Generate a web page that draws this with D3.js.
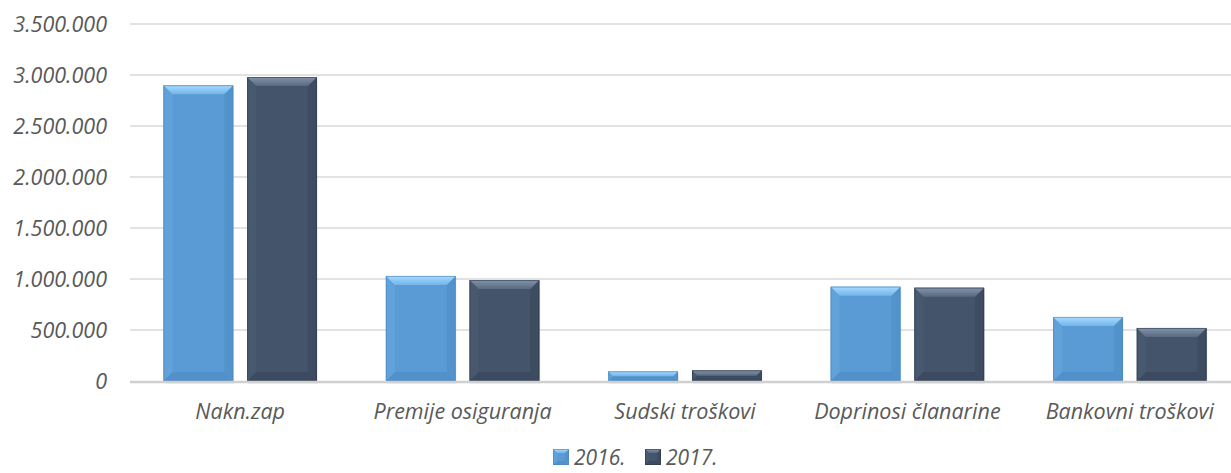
<!DOCTYPE html>
<html>
<head>
<meta charset="utf-8">
<script src="https://cdn.jsdelivr.net/npm/d3@7"></script>
<style>
  body { margin: 0; background: #fff; }
  text { font-family: "Open Sans", sans-serif; font-style: italic; fill: #595959; }
</style>
</head>
<body>
<div id="chart"></div>
<script>
const categories = ["Nakn.zap", "Premije osiguranja", "Sudski troškovi", "Doprinosi članarine", "Bankovni troškovi"];
const series = ["2016.", "2017."];
const values2016 = [2900000, 1030000, 95000, 925000, 628000];
const values2017 = [2980000, 990000, 105000, 915000, 520000];
const yTicks = [0, 500000, 1000000, 1500000, 2000000, 2500000, 3000000, 3500000];

const W = 1231, H = 473;
const svg = d3.select("#chart").append("svg")
  .attr("width", W)
  .attr("height", H);

const y = d3.scaleLinear().domain([0, 3500000]).range([381, 24]);
const x0 = d3.scaleBand().domain(categories).range([129, 1241]).paddingInner(0.31).paddingOuter(0.155);
const x1 = d3.scaleBand().domain(series).range([0, x0.bandwidth()]).paddingInner(0.1667);

const fmt = d => d3.format(",")(d).replace(/,/g, ".");

// gridlines
svg.append("g").selectAll("line")
  .data(yTicks.filter(d => d > 0))
  .enter().append("line")
  .attr("x1", 130).attr("x2", 1231)
  .attr("y1", d => y(d)).attr("y2", d => y(d))
  .attr("stroke", "#d9d9d9").attr("stroke-width", 1.5);

// y labels
svg.append("g").selectAll("text")
  .data(yTicks)
  .enter().append("text")
  .attr("x", 107)
  .attr("y", d => y(d) + 7.5)
  .attr("text-anchor", "end")
  .attr("font-size", 21.5)
  .text(fmt);

const styles = {
  "2016.": { main: "#5b9bd5", top0: "#a6dcff", top1: "#74b4ea", left: "#62a2da", right: "#5393cc", bottom: "#5190c8", stroke: "#4a86bd" },
  "2017.": { main: "#44546a", top0: "#8494aa", top1: "#586981", left: "#48596f", right: "#3d4c61", bottom: "#3b4a5e", stroke: "#2f3b4d" }
};

const defs = svg.append("defs");
series.forEach((s, i) => {
  const g = defs.append("linearGradient").attr("id", "top" + i).attr("x1", 0).attr("y1", 0).attr("x2", 0).attr("y2", 1);
  g.append("stop").attr("offset", "0%").attr("stop-color", styles[s].top0);
  g.append("stop").attr("offset", "100%").attr("stop-color", styles[s].top1);
});

function bevelBar(g, bx, by, bw, bh, s, i, b) {
  const st = styles[s];
  b = Math.min(b, bh / 2, bw / 2);
  g.append("rect").attr("x", bx).attr("y", by).attr("width", bw).attr("height", bh).attr("fill", st.main);
  const poly = (pts, fill) => g.append("polygon").attr("points", pts.map(p => p.join(",")).join(" ")).attr("fill", fill);
  poly([[bx, by + bh], [bx + b, by + bh - b], [bx + bw - b, by + bh - b], [bx + bw, by + bh]], st.bottom);
  poly([[bx, by], [bx + b, by + b], [bx + b, by + bh - b], [bx, by + bh]], st.left);
  poly([[bx + bw, by], [bx + bw - b, by + b], [bx + bw - b, by + bh - b], [bx + bw, by + bh]], st.right);
  poly([[bx, by], [bx + bw, by], [bx + bw - b, by + b], [bx + b, by + b]], "url(#top" + i + ")");
  g.append("rect").attr("x", bx + 0.5).attr("y", by + 0.5).attr("width", bw - 1).attr("height", bh - 1)
    .attr("fill", "none").attr("stroke", st.stroke).attr("stroke-width", 1).attr("stroke-opacity", 0.6);
}

const data = categories.map((c, k) => ({ cat: c, vals: [values2016[k], values2017[k]] }));

data.forEach(d => {
  series.forEach((s, i) => {
    const bx = x0(d.cat) + x1(s);
    const by = y(d.vals[i]);
    const bh = y(0) - by;
    const g = svg.append("g");
    // soft shadow
    g.append("rect").attr("x", bx + 1).attr("y", by + 1).attr("width", x1.bandwidth()).attr("height", bh + 2)
      .attr("fill", "#000").attr("opacity", 0.06);
    bevelBar(g, bx, by, x1.bandwidth(), bh, s, i, 9);
  });
});

// zero line
svg.append("line")
  .attr("x1", 130).attr("x2", 1231)
  .attr("y1", y(0) + 1).attr("y2", y(0) + 1)
  .attr("stroke", "#d0d0d0").attr("stroke-width", 2.5);

// category labels
svg.append("g").selectAll("text")
  .data(categories)
  .enter().append("text")
  .attr("x", d => x0(d) + x0.bandwidth() / 2)
  .attr("y", 419)
  .attr("text-anchor", "middle")
  .attr("font-size", 21.5)
  .text(d => d);

// legend
const legendX = [553, 645];
series.forEach((s, i) => {
  const g = svg.append("g");
  bevelBar(g, legendX[i], 449, 16, 16, s, i, 4);
  g.append("text")
    .attr("x", legendX[i] + 21)
    .attr("y", 465)
    .attr("font-size", 21)
    .text(s);
});
</script>
</body>
</html>
